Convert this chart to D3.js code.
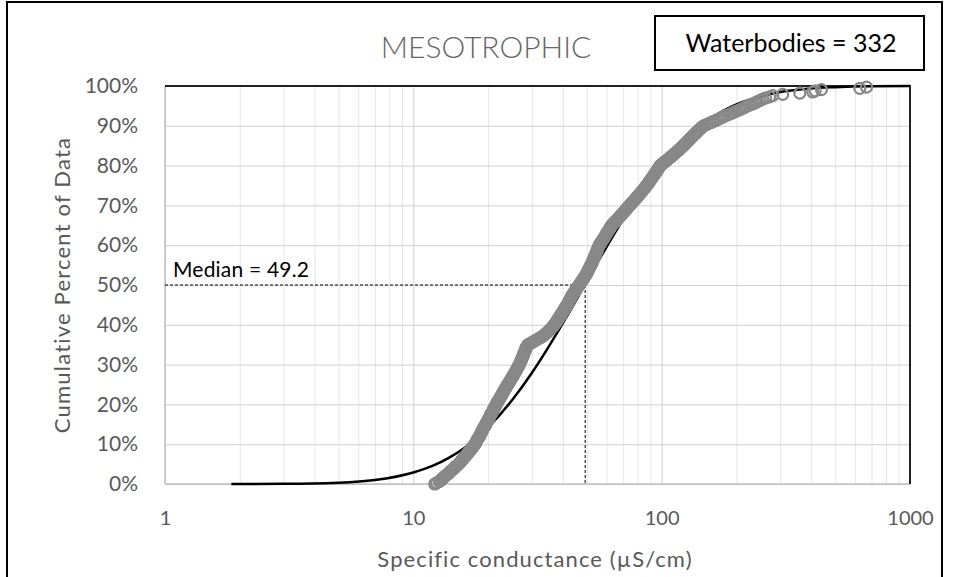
<!DOCTYPE html>
<html><head><meta charset="utf-8">
<script src="https://cdn.jsdelivr.net/npm/d3@7"></script>
<style>html,body{margin:0;padding:0;background:#fff;}svg{display:block;}</style>
</head><body>
<svg id="chart" width="954" height="577"></svg>
<script>
// ---- data ----
const title = "MESOTROPHIC";
const boxLabel = "Waterbodies = 332";
const xLabel = "Specific conductance (µS/cm)";
const yLabel = "Cumulative Percent of Data";
const medianValue = 49.2;
const medianPct = 0.5;
const sampleCount = 332;
const xTicks = [1, 10, 100, 1000];
const yTicks = [0, 0.1, 0.2, 0.3, 0.4, 0.5, 0.6, 0.7, 0.8, 0.9, 1.0];
const minorX = [2,3,4,5,6,7,8,9,20,30,40,50,60,70,80,90,200,300,400,500,600,700,800,900];

// sorted specific conductance of the 332 waterbodies (empirical CDF, pct = i/332)
const conductance = [
12.2,12.4,12.7,12.9,13.0,13.2,13.3,13.5,13.7,13.9,14.0,14.2,14.4,14.6,14.7,14.9,15.1,15.3,
15.4,15.6,15.7,15.9,16.0,16.2,16.3,16.5,16.6,16.8,16.9,17.1,17.2,17.4,17.5,17.7,
17.8,17.9,18.0,18.1,18.2,18.4,18.5,18.6,18.7,18.8,18.9,19.0,19.1,19.2,19.4,19.5,19.6,
19.7,19.8,20.0,20.1,20.2,20.3,20.4,20.5,20.7,20.8,20.9,21.0,21.1,21.3,21.4,21.5,
21.6,21.8,21.9,22.1,22.2,22.4,22.5,22.7,22.8,22.9,23.1,23.2,23.4,23.5,23.7,23.8,24.0,
24.2,24.3,24.5,24.7,24.8,25.0,25.2,25.3,25.5,25.7,25.8,26.0,26.1,26.3,26.5,26.6,26.8,
26.9,27.0,27.2,27.3,27.4,27.5,27.7,27.8,27.9,28.0,28.2,28.3,28.4,28.5,28.7,28.9,
29.4,30.0,30.6,31.2,31.8,32.4,33.0,33.5,
34.0,34.4,34.8,35.2,35.6,36.0,36.4,36.7,37.0,
37.3,37.6,37.8,38.1,38.4,38.7,39.0,39.2,39.5,39.8,40.1,40.4,40.6,40.9,41.2,41.5,
41.8,42.0,42.3,42.5,42.8,43.0,43.3,43.5,43.8,
44.1,44.5,44.8,45.2,45.5,45.8,46.2,46.5,
46.9,47.2,47.6,48.0,48.3,48.7,49.0,49.4,
49.7,50.0,50.3,50.6,50.8,51.1,51.4,51.7,52.0,
52.3,52.5,52.8,53.0,53.3,53.5,53.8,54.0,54.3,54.5,54.8,55.0,55.3,55.5,55.8,56.0,
56.4,56.8,57.2,57.6,58.1,58.5,58.9,59.3,59.7,60.1,60.5,60.9,61.4,61.8,62.2,62.6,63.0,
63.7,64.4,65.1,65.8,66.4,67.1,67.8,68.5,69.2,69.9,70.6,71.3,71.9,72.6,73.3,74.0,
74.8,75.5,76.3,77.1,77.8,78.6,79.4,80.1,80.9,81.7,82.4,83.2,84.0,84.7,85.5,86.2,87.0,
87.7,88.4,89.1,89.8,90.5,91.2,91.9,92.6,93.4,94.1,94.8,95.5,96.2,96.9,97.6,98.3,99.0,
100.4,101.9,103.3,104.8,106.2,107.6,109.1,110.5,111.9,113.4,114.8,116.3,117.7,119.1,120.6,122,
123.3,124.6,126,127.4,128.8,130.2,131.6,133,134.5,136,137.6,139.2,140.8,142.5,144.2,146,148,
152,156,160,164,168,172,176,180,
185,190,195,200,205,210,215,220,
226,232,238,243,249,255,
262,272,280,307,360,406,415,440,628,668
];

// fitted (log-normal) curve
const fitX   = [1.85, 3, 5, 7, 10, 12, 14, 16, 18, 20, 25, 30, 35, 40, 45, 50, 55, 60, 70, 80, 90, 100, 120, 150, 200, 250, 300, 400, 500, 700, 1000];
const fitPct = [0.0, 0.0004, 0.0032, 0.010, 0.029, 0.046, 0.067, 0.090, 0.115, 0.142, 0.211, 0.279, 0.344, 0.404, 0.459, 0.510, 0.555, 0.596, 0.665, 0.721, 0.767, 0.803, 0.858, 0.910, 0.954, 0.974, 0.985, 0.994, 0.997, 0.9993, 0.9999];

// ---- layout ----
const svg = d3.select("#chart");
const FONT = "Lato, 'Open Sans', sans-serif";
const pLeft = 165, pRight = 910, pTop = 86, pBottom = 484;
const x = d3.scaleLog().domain([1, 1000]).range([pLeft, pRight]);
const y = d3.scaleLinear().domain([0, 1]).range([pBottom, pTop]);

// outer frame
svg.append("rect").attr("x", 7).attr("y", 2).attr("width", 935).attr("height", 620)
  .attr("fill", "none").attr("stroke", "#000").attr("stroke-width", 2);

// minor vertical gridlines
svg.append("g").attr("transform", `translate(0,${pBottom})`)
  .call(d3.axisBottom(x).tickValues(minorX).tickSize(-(pBottom - pTop)).tickFormat(""))
  .call(g => g.select(".domain").remove())
  .call(g => g.selectAll("line").attr("stroke", "#e6e6e6").attr("stroke-width", 1));

// major vertical gridlines + x labels
svg.append("g").attr("transform", `translate(0,${pBottom})`)
  .call(d3.axisBottom(x).tickValues(xTicks).tickSize(-(pBottom - pTop)).tickPadding(27).tickFormat(d3.format("d")))
  .call(g => g.select(".domain").remove())
  .call(g => g.selectAll("line").attr("stroke", "#d0d0d0").attr("stroke-width", 1))
  .call(g => g.selectAll("text").attr("fill", "#595959").attr("font-family", FONT).attr("font-size", 20));

// horizontal gridlines + y labels
svg.append("g").attr("transform", `translate(${pLeft},0)`)
  .call(d3.axisLeft(y).tickValues(yTicks).tickSize(-(pRight - pLeft)).tickPadding(27).tickFormat(d3.format(".0%")))
  .call(g => g.select(".domain").remove())
  .call(g => g.selectAll("line").attr("stroke", "#d0d0d0").attr("stroke-width", 1))
  .call(g => g.selectAll("text").attr("fill", "#595959").attr("font-family", FONT).attr("font-size", 21));

// plot frame: left/bottom light, top/right dark
svg.append("line").attr("x1", pLeft).attr("x2", pLeft).attr("y1", pTop).attr("y2", pBottom).attr("stroke", "#bfbfbf").attr("stroke-width", 1.5);
svg.append("line").attr("x1", pLeft).attr("x2", pRight).attr("y1", pBottom).attr("y2", pBottom).attr("stroke", "#bfbfbf").attr("stroke-width", 1.5);
svg.append("line").attr("x1", pLeft).attr("x2", pRight).attr("y1", pTop).attr("y2", pTop).attr("stroke", "#222").attr("stroke-width", 2);
svg.append("line").attr("x1", pRight).attr("x2", pRight).attr("y1", pTop - 1).attr("y2", pBottom).attr("stroke", "#222").attr("stroke-width", 2);

// median guide lines
svg.append("line").attr("x1", x(1)).attr("x2", x(medianValue)).attr("y1", y(medianPct)).attr("y2", y(medianPct))
  .attr("stroke", "#000").attr("stroke-width", 1).attr("stroke-dasharray", "3,2");
svg.append("line").attr("x1", x(medianValue)).attr("x2", x(medianValue)).attr("y1", y(medianPct)).attr("y2", y(0))
  .attr("stroke", "#000").attr("stroke-width", 1).attr("stroke-dasharray", "3,2");

// fitted curve
const fitData = fitX.map((v, i) => ({ x: v, p: fitPct[i] }));
svg.append("path").datum(fitData)
  .attr("fill", "none").attr("stroke", "#000").attr("stroke-width", 2.5)
  .attr("d", d3.line().x(d => x(d.x)).y(d => y(d.p)).curve(d3.curveMonotoneX));

// empirical points
svg.append("g").selectAll("circle").data(conductance).join("circle")
  .attr("cx", d => x(d)).attr("cy", (d, i) => y(i / sampleCount))
  .attr("r", 5.5).attr("fill", "none").attr("stroke", "#888").attr("stroke-width", 2.2);

// median label
svg.append("text").attr("x", pLeft + 8).attr("y", y(medianPct) - 8)
  .attr("font-family", FONT).attr("font-size", 21).attr("letter-spacing", 0.2).attr("fill", "#000")
  .text(`Median = ${medianValue}`);

// title
svg.append("text").attr("x", 486).attr("y", 58).attr("text-anchor", "middle")
  .attr("font-family", FONT).attr("font-weight", 300).attr("font-size", 30).attr("fill", "#666")
  .text(title);

// count box
svg.append("rect").attr("x", 655).attr("y", 16).attr("width", 269).attr("height", 54)
  .attr("fill", "#fff").attr("stroke", "#000").attr("stroke-width", 2);
svg.append("text").attr("x", 791).attr("y", 52).attr("text-anchor", "middle")
  .attr("font-family", FONT).attr("font-size", 25).attr("fill", "#000")
  .text(boxLabel);

// axis titles
svg.append("text").attr("x", 535).attr("y", 567).attr("text-anchor", "middle")
  .attr("font-family", FONT).attr("font-size", 22).attr("letter-spacing", 1.1).attr("fill", "#595959")
  .text(xLabel);
svg.append("text").attr("transform", `translate(70,${(pTop + pBottom) / 2}) rotate(-90)`).attr("text-anchor", "middle")
  .attr("font-family", FONT).attr("font-size", 22).attr("letter-spacing", 1.2).attr("fill", "#595959")
  .text(yLabel);
</script>
</body></html>
